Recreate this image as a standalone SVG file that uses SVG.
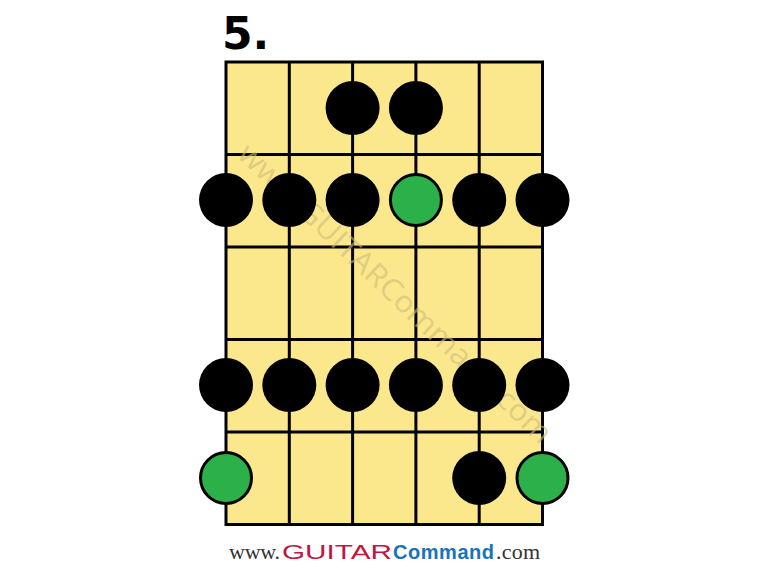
<svg xmlns="http://www.w3.org/2000/svg" width="768" height="568" viewBox="0 0 768 568">
<style>
.board{fill:#fce88c;stroke:#000;stroke-width:3}
.ln{stroke:#000;stroke-width:3;fill:none}
.b{fill:#000}
.g{fill:#2bb04a;stroke:#000;stroke-width:3}
.wm{font-family:"Open Sans","DejaVu Sans",sans-serif;font-size:30px;fill:#cdbd7a;opacity:0.6}
.ser{font-family:"Liberation Serif",serif;fill:#333;font-size:22px}
.sans{font-family:"Liberation Sans",Arial,sans-serif;font-size:20px}
</style>
<rect width="768" height="568" fill="#fff"/>
<text x="222" y="49" font-family="DejaVu Sans,sans-serif" font-weight="bold" font-size="44" fill="#000">5.</text>
<g id="fretboard">
<rect class="board" x="226" y="62" width="316.5" height="462.5"/>
<path class="ln" d="M289.3 62V524.5M352.6 62V524.5M415.9 62V524.5M479.2 62V524.5M226 154.5H542.5M226 247H542.5M226 339.5H542.5M226 432H542.5"/>
<text class="wm" transform="translate(236,156) rotate(43.5)" textLength="420" lengthAdjust="spacingAndGlyphs">www.GUITARCommand.com</text>
</g>
<g id="dots">
<circle class="b" cx="352.6" cy="108" r="27"/>
<circle class="b" cx="415.9" cy="108" r="27"/>
<circle class="b" cx="226" cy="200" r="27"/>
<circle class="b" cx="289.3" cy="200" r="27"/>
<circle class="b" cx="352.6" cy="200" r="27"/>
<circle class="g" cx="415.9" cy="200" r="25.5"/>
<circle class="b" cx="479.2" cy="200" r="27"/>
<circle class="b" cx="542.5" cy="200" r="27"/>
<circle class="b" cx="226" cy="385" r="27"/>
<circle class="b" cx="289.3" cy="385" r="27"/>
<circle class="b" cx="352.6" cy="385" r="27"/>
<circle class="b" cx="415.9" cy="385" r="27"/>
<circle class="b" cx="479.2" cy="385" r="27"/>
<circle class="b" cx="542.5" cy="385" r="27"/>
<circle class="g" cx="226" cy="478" r="25.5"/>
<circle class="b" cx="479.2" cy="478" r="27"/>
<circle class="g" cx="542.5" cy="478" r="25.5"/>
</g>
<g id="credit">
<text class="ser" x="229" y="559" textLength="51">www.</text>
<text class="sans" x="282" y="559" fill="#c1163f" textLength="110" lengthAdjust="spacingAndGlyphs">GUITAR</text>
<text class="sans" x="393" y="559" fill="#1a73ba" font-weight="bold" textLength="101">Command</text>
<text class="ser" x="496" y="559" textLength="44">.com</text>
</g>
</svg>
